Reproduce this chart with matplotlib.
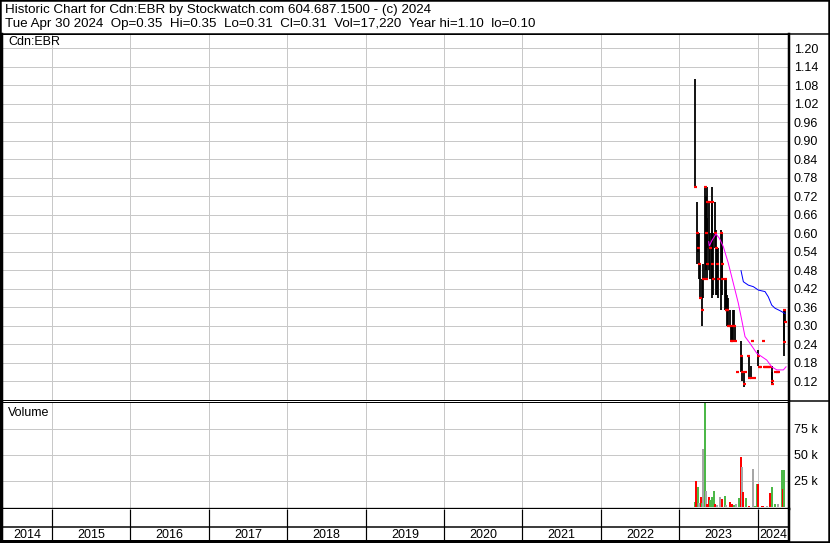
import numpy as np
import matplotlib
matplotlib.use('Agg')
import matplotlib.pyplot as plt
from matplotlib.lines import Line2D
from matplotlib.patches import Rectangle

plt.rcParams['font.family'] = ['Liberation Sans', 'DejaVu Sans']

# price bars (date as fractional year)
bar_dates = [2023.202, 2023.221, 2023.234, 2023.252, 2023.265, 2023.291, 2023.303, 2023.329, 2023.336, 2023.342,
             2023.349, 2023.355, 2023.374, 2023.393, 2023.412, 2023.418, 2023.425, 2023.450, 2023.463, 2023.482,
             2023.495, 2023.533, 2023.540, 2023.546, 2023.584, 2023.591, 2023.597, 2023.610, 2023.622, 2023.648,
             2023.661, 2023.673, 2023.686, 2023.699, 2023.712, 2023.737, 2023.788, 2023.800, 2023.827, 2023.840,
             2023.871, 2023.884, 2023.909, 2023.922, 2023.954, 2024.005, 2024.020, 2024.035, 2024.062, 2024.075,
             2024.095, 2024.115, 2024.135, 2024.155, 2024.177, 2024.184, 2024.222, 2024.245, 2024.265, 2024.330,
             2024.337, 2024.343]
bar_highs = [1.10, 0.70, 0.60, 0.60, 0.50, 0.45, 0.50, 0.75, 0.72, 0.70,
             0.75, 0.65, 0.70, 0.60, 0.75, 0.70, 0.60, 0.70, 0.61, 0.55,
             0.55, 0.61, 0.60, 0.55, 0.45, 0.45, 0.42, 0.40, 0.39, 0.35,
             0.30, 0.30, 0.35, 0.35, 0.30, 0.15, 0.25, 0.20, 0.15, 0.15,
             0.20, 0.20, 0.17, 0.25, 0.13, 0.22, 0.165, 0.165, 0.25, 0.165,
             0.165, 0.165, 0.165, 0.165, 0.17, 0.15, 0.15, 0.15, 0.15, 0.35,
             0.35, 0.35]
bar_lows = [0.75, 0.50, 0.54, 0.45, 0.39, 0.30, 0.39, 0.45, 0.50, 0.48,
            0.55, 0.45, 0.48, 0.45, 0.39, 0.45, 0.40, 0.55, 0.40, 0.40,
            0.39, 0.35, 0.45, 0.40, 0.35, 0.35, 0.35, 0.30, 0.30, 0.30,
            0.25, 0.25, 0.25, 0.30, 0.25, 0.15, 0.15, 0.12, 0.10, 0.15,
            0.20, 0.13, 0.13, 0.25, 0.13, 0.17, 0.165, 0.165, 0.25, 0.165,
            0.165, 0.165, 0.165, 0.165, 0.11, 0.11, 0.15, 0.15, 0.15, 0.20,
            0.25, 0.31]
bar_closes = [0.75, 0.60, 0.55, 0.50, 0.39, 0.35, 0.45, 0.75, 0.60, 0.45,
              0.70, 0.50, 0.70, 0.55, 0.70, 0.50, 0.45, 0.60, 0.55, 0.50,
              0.45, 0.60, 0.50, 0.45, 0.45, 0.35, 0.35, 0.35, 0.30, 0.30,
              0.25, 0.25, 0.30, 0.30, 0.25, 0.15, 0.20, 0.15, 0.11, 0.15,
              0.20, 0.13, 0.13, 0.25, 0.13, 0.20, 0.165, 0.165, 0.25, 0.165,
              0.165, 0.165, 0.165, 0.165, 0.12, 0.11, 0.15, 0.15, 0.15, 0.245,
              0.35, 0.31]

# moving averages
ma_short_dates = [2023.376, 2023.384, 2023.415, 2023.469, 2023.512, 2023.562, 2023.626, 2023.690, 2023.754,
                  2023.797, 2023.839, 2023.903, 2023.989, 2024.116, 2024.180, 2024.244, 2024.328, 2024.362]
ma_short = [0.572, 0.558, 0.575, 0.597, 0.583, 0.556, 0.502, 0.437, 0.372,
            0.318, 0.264, 0.242, 0.210, 0.188, 0.166, 0.156, 0.156, 0.166]
ma_long_dates = [2023.788, 2023.818, 2023.881, 2023.945, 2024.009, 2024.094, 2024.136, 2024.180, 2024.222,
                 2024.286, 2024.349]
ma_long = [0.478, 0.442, 0.431, 0.426, 0.415, 0.410, 0.393, 0.366, 0.356, 0.348, 0.339]

# volume bars
vol_dates = [2023.197, 2023.218, 2023.240, 2023.253, 2023.274, 2023.291, 2023.304, 2023.325, 2023.342, 2023.355,
             2023.376, 2023.397, 2023.418, 2023.440, 2023.452, 2023.478, 2023.524, 2023.546, 2023.580, 2023.597,
             2023.652, 2023.673, 2023.695, 2023.728, 2023.763, 2023.784, 2023.797, 2023.814, 2023.848, 2023.890,
             2023.945, 2023.967, 2023.989, 2024.009, 2024.052, 2024.069, 2024.116, 2024.158, 2024.163, 2024.180,
             2024.222, 2024.265, 2024.316, 2024.329, 2024.337]
vol_values = [5000, 25000, 19000, 4000, 9600, 4000, 56000, 100000, 15000, 3000,
              9600, 7000, 10000, 15000, 3000, 2000, 9600, 7500, 11000, 2000,
              5000, 3000, 2000, 3000, 8600, 48000, 38000, 14000, 8600, 1000,
              37000, 1000, 22000, 22000, 1000, 1000, 1000, 8600, 13000, 19000,
              3000, 2500, 36000, 17220, 36000]
vol_colors = ['g', 'r', 'g', 'k', 'r', 'g', 'k', 'g', 'k', 'r',
              'r', 'g', 'g', 'g', 'r', 'k', 'k', 'r', 'g', 'k',
              'r', 'r', 'g', 'k', 'g', 'r', 'k', 'r', 'g', 'r',
              'k', 'g', 'g', 'r', 'r', 'r', 'k', 'k', 'r', 'g',
              'g', 'k', 'g', 'r', 'g']

price_ticks = [0.12, 0.18, 0.24, 0.30, 0.36, 0.42, 0.48, 0.54, 0.60, 0.66, 0.72, 0.78,
               0.84, 0.90, 0.96, 1.02, 1.08, 1.14, 1.20]
vol_ticks = [25000, 50000, 75000]
vol_labels = ['25 k', '50 k', '75 k']
years = list(range(2014, 2025))

header1 = 'Historic Chart for Cdn:EBR by Stockwatch.com 604.687.1500 - (c) 2024'
header2 = 'Tue Apr 30 2024  Op=0.35  Hi=0.35  Lo=0.31  Cl=0.31  Vol=17,220  Year hi=1.10  lo=0.10'

W, H = 830, 543
PX = 0.72  # points per pixel at dpi 100
XMIN, XMAX = 2014.362, 2024.40
GRID = '#c8c8c8'
color_map = {'g': '#4cb848', 'r': '#ff0000', 'k': '#a6a6a6'}


def rect(x0, y0, x1, y1):
    return [x0 / W, 1 - y1 / H, (x1 - x0) / W, (y1 - y0) / H]


def frame(a, left=2.5, right=2.5, top=1, bottom=1):
    for side, w in (('left', left), ('right', right), ('top', top), ('bottom', bottom)):
        if w:
            a.spines[side].set_linewidth(w * PX)
            a.spines[side].set_color('black')
        else:
            a.spines[side].set_visible(False)


fig = plt.figure(figsize=(W / 100, H / 100), dpi=100)

# price panel
ax = fig.add_axes(rect(2, 34, 789, 400))
ax.set_xlim(XMIN, XMAX)
ax.set_ylim(0.0584, 1.2455)
ax.set_xticks(years[1:])
ax.set_xticklabels([])
ax.set_yticks(price_ticks)
ax.set_yticklabels(['%.2f' % t for t in price_ticks])
ax.yaxis.tick_right()
ax.tick_params(length=0, pad=3.5, labelsize=9)
ax.grid(True, color=GRID, lw=1 * PX)
ax.set_axisbelow(True)
frame(ax)

ax.vlines(bar_dates, bar_lows, bar_highs, color='black', lw=1.8 * PX, zorder=3)
ax.plot(bar_dates, bar_closes, linestyle='none', marker='_', markersize=3 * PX,
        markeredgewidth=2.2 * PX, color='#ff0000', zorder=4)
ax.plot(ma_short_dates, ma_short, color='#ff00ff', lw=1 * PX, zorder=5)
ax.plot(ma_long_dates, ma_long, color='#0000ff', lw=1 * PX, zorder=5)
fig.text(8 / W, 1 - 42 / H, 'Cdn:EBR', fontsize=9, va='center', ha='left')

# volume panel
axv = fig.add_axes(rect(2, 402, 789, 509))
axv.set_xlim(XMIN, XMAX)
axv.set_ylim(-1923, 100960)
axv.set_xticks(years[1:])
axv.set_xticklabels([])
axv.set_yticks(vol_ticks)
axv.set_yticklabels(vol_labels)
axv.yaxis.tick_right()
axv.tick_params(length=0, pad=3.5, labelsize=9)
axv.grid(True, color=GRID, lw=1 * PX)
axv.set_axisbelow(True)
frame(axv, bottom=2.3)
axv.bar(vol_dates, vol_values, width=0.024, color=[color_map[c] for c in vol_colors], lw=0, zorder=3)
fig.text(8 / W, 1 - 413 / H, 'Volume', fontsize=9, va='center', ha='left')

# year strip
axy = fig.add_axes(rect(2, 509, 789, 541))
axy.set_xlim(XMIN, XMAX)
axy.set_ylim(0, 1)
axy.set_xticks([])
axy.set_yticks([])
frame(axy, top=0, bottom=2)
axy.vlines(years[1:], 0, 1, color='black', lw=1.2 * PX)
axy.axhline(0.45, color='black', lw=1.5 * PX)
for y in years:
    lo, hi = max(y, XMIN), min(y + 1, XMAX)
    axy.text((lo + hi) / 2, 0.2, str(y), fontsize=9, ha='center', va='center')

# header and outer frame
fig.add_artist(Line2D([0, 1], [1 - 33.5 / H, 1 - 33.5 / H], transform=fig.transFigure, color='black', lw=1.5 * PX))
fig.add_artist(Line2D([789 / W, 1], [1 - 401 / H, 1 - 401 / H], transform=fig.transFigure, color='black', lw=1.5 * PX))
fig.add_artist(Rectangle((0, 0), 1, 1, transform=fig.transFigure, fill=False, edgecolor='black', lw=3.5 * PX))
fig.text(5 / W, 1 - 10 / H, header1, fontsize=9.6, va='center', ha='left')
fig.text(5 / W, 1 - 24 / H, header2, fontsize=9.6, va='center', ha='left')

fig.savefig('out.png', dpi=100)
